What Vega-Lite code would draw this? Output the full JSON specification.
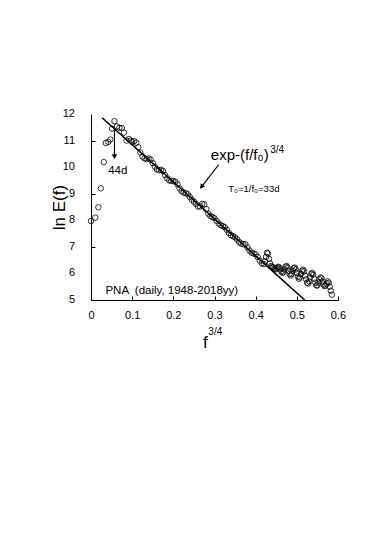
{
  "$schema": "https://vega.github.io/schema/vega-lite/v6.json",
  "width": 247,
  "height": 186,
  "autosize": {"type": "none"},
  "padding": {"left": 91, "top": 114, "right": 36, "bottom": 236},
  "background": "white",
  "config": {
    "view": {"stroke": null},
    "font": "Liberation Sans",
    "axis": {"grid": false, "domainColor": "black", "tickColor": "black", "labelColor": "black", "titleColor": "black", "labelFont": "Liberation Sans", "titleFont": "Liberation Sans", "labelFontSize": 11, "domainWidth": 1, "tickWidth": 1}
  },
  "datasets": {
    "pts": [
      {"x": 0.0, "y": 7.97}, {"x": 0.0105, "y": 8.1}, {"x": 0.018, "y": 8.49}, {"x": 0.024, "y": 9.2},
      {"x": 0.031, "y": 10.19}, {"x": 0.036, "y": 10.91}, {"x": 0.042, "y": 10.95}, {"x": 0.047, "y": 11.04},
      {"x": 0.051, "y": 11.45}, {"x": 0.057, "y": 11.73}, {"x": 0.063, "y": 11.53}, {"x": 0.069, "y": 11.48},
      {"x": 0.075, "y": 11.47}, {"x": 0.08, "y": 11.3}, {"x": 0.086, "y": 11.0}, {"x": 0.092, "y": 11.06},
      {"x": 0.097, "y": 11.0},
      {"x": 0.100, "y": 10.95}, {"x": 0.105, "y": 10.98}, {"x": 0.110, "y": 10.92}, {"x": 0.115, "y": 10.75},
      {"x": 0.120, "y": 10.55}, {"x": 0.125, "y": 10.40}, {"x": 0.130, "y": 10.33}, {"x": 0.135, "y": 10.30},
      {"x": 0.140, "y": 10.33}, {"x": 0.145, "y": 10.28}, {"x": 0.150, "y": 10.15}, {"x": 0.155, "y": 10.02},
      {"x": 0.160, "y": 9.92}, {"x": 0.165, "y": 9.88}, {"x": 0.170, "y": 9.90}, {"x": 0.175, "y": 9.85},
      {"x": 0.180, "y": 9.70}, {"x": 0.185, "y": 9.58}, {"x": 0.190, "y": 9.50}, {"x": 0.195, "y": 9.48},
      {"x": 0.200, "y": 9.48}, {"x": 0.205, "y": 9.45}, {"x": 0.210, "y": 9.35}, {"x": 0.215, "y": 9.20},
      {"x": 0.220, "y": 9.10}, {"x": 0.225, "y": 9.04}, {"x": 0.230, "y": 9.02}, {"x": 0.235, "y": 8.98},
      {"x": 0.240, "y": 8.88}, {"x": 0.245, "y": 8.78}, {"x": 0.250, "y": 8.70}, {"x": 0.255, "y": 8.62},
      {"x": 0.260, "y": 8.52}, {"x": 0.265, "y": 8.52}, {"x": 0.270, "y": 8.62}, {"x": 0.275, "y": 8.60},
      {"x": 0.280, "y": 8.42}, {"x": 0.285, "y": 8.25}, {"x": 0.290, "y": 8.16}, {"x": 0.295, "y": 8.12},
      {"x": 0.300, "y": 8.08}, {"x": 0.305, "y": 7.98}, {"x": 0.310, "y": 7.88}, {"x": 0.315, "y": 7.82},
      {"x": 0.320, "y": 7.78}, {"x": 0.325, "y": 7.74}, {"x": 0.330, "y": 7.64}, {"x": 0.335, "y": 7.52},
      {"x": 0.340, "y": 7.44}, {"x": 0.345, "y": 7.40}, {"x": 0.350, "y": 7.36}, {"x": 0.355, "y": 7.28},
      {"x": 0.360, "y": 7.18}, {"x": 0.365, "y": 7.12}, {"x": 0.370, "y": 7.10}, {"x": 0.375, "y": 7.10},
      {"x": 0.380, "y": 6.98}, {"x": 0.385, "y": 6.86}, {"x": 0.390, "y": 6.78}, {"x": 0.395, "y": 6.75},
      {"x": 0.400, "y": 6.72}, {"x": 0.405, "y": 6.62}, {"x": 0.410, "y": 6.48}, {"x": 0.415, "y": 6.38},
      {"x": 0.420, "y": 6.35},
      {"x": 0.4225, "y": 6.45}, {"x": 0.425, "y": 6.62}, {"x": 0.4275, "y": 6.78}, {"x": 0.430, "y": 6.75},
      {"x": 0.4325, "y": 6.55}, {"x": 0.435, "y": 6.38}, {"x": 0.4375, "y": 6.28}, {"x": 0.440, "y": 6.25},
      {"x": 0.4425, "y": 6.22}, {"x": 0.445, "y": 6.18}, {"x": 0.4475, "y": 6.15}, {"x": 0.450, "y": 6.18},
      {"x": 0.4525, "y": 6.22}, {"x": 0.455, "y": 6.25}, {"x": 0.4575, "y": 6.22}, {"x": 0.460, "y": 6.15},
      {"x": 0.4625, "y": 6.08}, {"x": 0.465, "y": 6.02}, {"x": 0.4675, "y": 6.05}, {"x": 0.470, "y": 6.15},
      {"x": 0.4725, "y": 6.25}, {"x": 0.475, "y": 6.28}, {"x": 0.4775, "y": 6.22}, {"x": 0.480, "y": 6.10},
      {"x": 0.4825, "y": 5.98}, {"x": 0.485, "y": 5.92}, {"x": 0.4875, "y": 5.98}, {"x": 0.490, "y": 6.10},
      {"x": 0.4925, "y": 6.20}, {"x": 0.495, "y": 6.22}, {"x": 0.4975, "y": 6.15}, {"x": 0.500, "y": 6.02},
      {"x": 0.5025, "y": 5.88}, {"x": 0.505, "y": 5.80}, {"x": 0.5075, "y": 5.85}, {"x": 0.510, "y": 5.98},
      {"x": 0.5125, "y": 6.10}, {"x": 0.515, "y": 6.14}, {"x": 0.5175, "y": 6.08}, {"x": 0.520, "y": 5.92},
      {"x": 0.5225, "y": 5.78}, {"x": 0.525, "y": 5.65}, {"x": 0.5275, "y": 5.62}, {"x": 0.530, "y": 5.70},
      {"x": 0.5325, "y": 5.85}, {"x": 0.535, "y": 5.98}, {"x": 0.5375, "y": 6.02}, {"x": 0.540, "y": 5.95},
      {"x": 0.5425, "y": 5.80}, {"x": 0.545, "y": 5.65}, {"x": 0.5475, "y": 5.55}, {"x": 0.550, "y": 5.55},
      {"x": 0.5525, "y": 5.65}, {"x": 0.555, "y": 5.78}, {"x": 0.5575, "y": 5.85}, {"x": 0.560, "y": 5.82},
      {"x": 0.5625, "y": 5.70}, {"x": 0.565, "y": 5.58}, {"x": 0.5675, "y": 5.52}, {"x": 0.570, "y": 5.55},
      {"x": 0.5725, "y": 5.62}, {"x": 0.575, "y": 5.70}, {"x": 0.5775, "y": 5.65}, {"x": 0.580, "y": 5.50},
      {"x": 0.5825, "y": 5.35}, {"x": 0.585, "y": 5.20}
    ],
    "fit": [{"x": 0.027, "y": 11.86, "x2": 0.519, "y2": 5.0}],
    "arrows": [
      {"x": 0.057, "y": 11.52, "x2": 0.057, "y2": 10.42},
      {"x": 0.310, "y": 10.09, "x2": 0.268, "y2": 9.25}
    ],
    "ylabels": [
      {"v": 5, "t": "5"}, {"v": 6, "t": "6"}, {"v": 7, "t": "7"}, {"v": 8, "t": "8"},
      {"v": 9, "t": "9"}, {"v": 10, "t": "10"}, {"v": 11, "t": "11"}, {"v": 12, "t": "12"}
    ]
  },
  "layer": [
    {
      "data": {"name": "pts"},
      "mark": {"type": "point", "shape": "circle", "size": 30, "filled": false, "stroke": "black", "strokeWidth": 0.8, "opacity": 1},
      "encoding": {
        "x": {"field": "x", "type": "quantitative", "scale": {"domain": [0, 0.6], "nice": false, "zero": false},
          "axis": {"title": null, "values": [0, 0.05, 0.1, 0.15, 0.2, 0.25, 0.3, 0.35, 0.4, 0.45, 0.5, 0.55, 0.6],
            "labelExpr": "round(datum.value*100) % 10 == 0 ? (datum.value == 0 ? '0' : format(datum.value, '.1f')) : ''",
            "tickSize": -4, "labelPadding": 13, "labelFlush": false, "labelOverlap": false}},
        "y": {"field": "y", "type": "quantitative", "scale": {"domain": [5, 12], "nice": false, "zero": false},
          "axis": {"title": "ln E(f)", "titleFontSize": 17, "titleFontWeight": "normal",
            "titleX": -32, "titleY": 93, "titleAngle": -90, "titleAlign": "center", "titleBaseline": "middle",
            "values": [5, 5.5, 6, 6.5, 7, 7.5, 8, 8.5, 9, 9.5, 10, 10.5, 11, 11.5, 12],
            "labels": false, "tickSize": -4}}
      }
    },
    {
      "data": {"name": "ylabels"},
      "mark": {"type": "text", "align": "right", "baseline": "middle", "fontSize": 11, "dx": -16, "color": "black"},
      "encoding": {"x": {"datum": 0, "type": "quantitative"}, "y": {"field": "v", "type": "quantitative"}, "text": {"field": "t"}}
    },
    {
      "data": {"name": "fit"},
      "mark": {"type": "rule", "color": "black", "strokeWidth": 1.6},
      "encoding": {
        "x": {"field": "x", "type": "quantitative"}, "y": {"field": "y", "type": "quantitative"},
        "x2": {"field": "x2"}, "y2": {"field": "y2"}
      }
    },
    {
      "data": {"name": "arrows"},
      "mark": {"type": "rule", "color": "black", "strokeWidth": 1.2},
      "encoding": {
        "x": {"field": "x", "type": "quantitative"}, "y": {"field": "y", "type": "quantitative"},
        "x2": {"field": "x2"}, "y2": {"field": "y2"}
      }
    },
    {
      "data": {"values": [{"x": 0.057, "y": 10.39}]},
      "mark": {"type": "point", "shape": "triangle-down", "filled": true, "color": "black", "size": 32, "opacity": 1},
      "encoding": {"x": {"field": "x", "type": "quantitative"}, "y": {"field": "y", "type": "quantitative"}}
    },
    {
      "data": {"values": [{"x": 0.2685, "y": 9.26}]},
      "mark": {"type": "point", "shape": "triangle-up", "filled": true, "color": "black", "size": 32, "angle": 218, "opacity": 1},
      "encoding": {"x": {"field": "x", "type": "quantitative"}, "y": {"field": "y", "type": "quantitative"}}
    },
    {
      "data": {"values": [{"x": 0.035, "y": 5.24, "t": "PNA \u00a0(daily, 1948-2018yy)"}]},
      "mark": {"type": "text", "align": "left", "baseline": "alphabetic", "fontSize": 11.5, "color": "black"},
      "encoding": {"x": {"field": "x", "type": "quantitative"}, "y": {"field": "y", "type": "quantitative"}, "text": {"field": "t"}}
    },
    {
      "data": {"values": [{"x": 0.065, "y": 9.75, "t": "44d"}]},
      "mark": {"type": "text", "align": "center", "baseline": "alphabetic", "fontSize": 11.5, "color": "black"},
      "encoding": {"x": {"field": "x", "type": "quantitative"}, "y": {"field": "y", "type": "quantitative"}, "text": {"field": "t"}}
    },
    {
      "data": {"values": [{"x": 0.291, "y": 10.28, "t": "exp-(f/f\u2080)"}]},
      "mark": {"type": "text", "align": "left", "baseline": "alphabetic", "fontSize": 15, "color": "black"},
      "encoding": {"x": {"field": "x", "type": "quantitative"}, "y": {"field": "y", "type": "quantitative"}, "text": {"field": "t"}}
    },
    {
      "data": {"values": [{"x": 0.4355, "y": 10.53, "t": "3/4"}]},
      "mark": {"type": "text", "align": "left", "baseline": "alphabetic", "fontSize": 10, "color": "black"},
      "encoding": {"x": {"field": "x", "type": "quantitative"}, "y": {"field": "y", "type": "quantitative"}, "text": {"field": "t"}}
    },
    {
      "data": {"values": [{"x": 0.3334, "y": 9.07, "t": "T\u2080=1/f\u2080=33d"}]},
      "mark": {"type": "text", "align": "left", "baseline": "alphabetic", "fontSize": 9.5, "color": "black"},
      "encoding": {"x": {"field": "x", "type": "quantitative"}, "y": {"field": "y", "type": "quantitative"}, "text": {"field": "t"}}
    },
    {
      "data": {"values": [{"x": 0.2775, "y": 3.18, "t": "f"}]},
      "mark": {"type": "text", "align": "center", "baseline": "alphabetic", "fontSize": 17, "color": "black"},
      "encoding": {"x": {"field": "x", "type": "quantitative"}, "y": {"field": "y", "type": "quantitative"}, "text": {"field": "t"}}
    },
    {
      "data": {"values": [{"x": 0.285, "y": 3.67, "t": "3/4"}]},
      "mark": {"type": "text", "align": "left", "baseline": "alphabetic", "fontSize": 10, "color": "black"},
      "encoding": {"x": {"field": "x", "type": "quantitative"}, "y": {"field": "y", "type": "quantitative"}, "text": {"field": "t"}}
    }
  ]
}
